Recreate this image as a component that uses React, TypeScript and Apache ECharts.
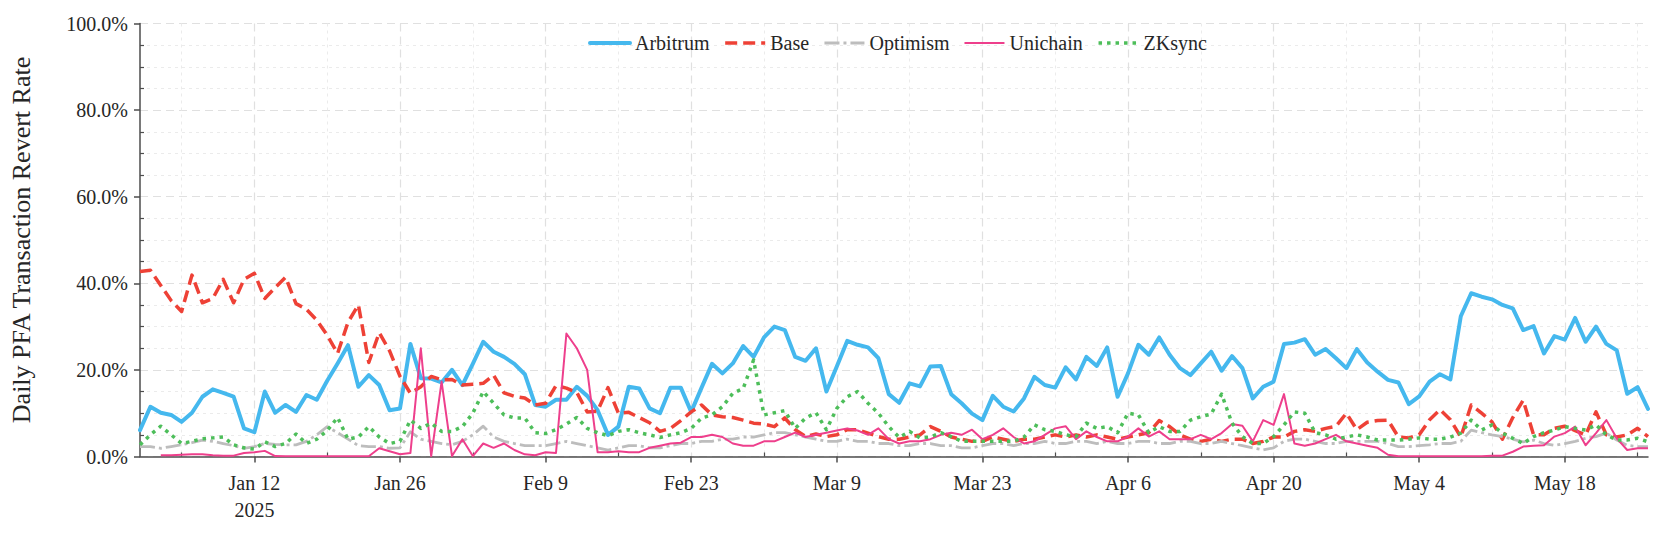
import React, { useEffect, useRef } from "react";
import * as echarts from "echarts";

// ---- categories (daily, Jan 1 2025 .. May 26 2025) ----
const START_UTC = Date.UTC(2025, 0, 1);
const DAY_COUNT = 146;
const MONTH_NAMES = ["Jan", "Feb", "Mar", "Apr", "May", "Jun", "Jul", "Aug", "Sep", "Oct", "Nov", "Dec"];
const dayLabels: string[] = Array.from({ length: DAY_COUNT }, (_, i) => {
  const d = new Date(START_UTC + i * 86400000);
  return `${MONTH_NAMES[d.getUTCMonth()]} ${d.getUTCDate()}`;
});
const YEAR_LABEL = "2025";
const YEAR_LABEL_INDEX = 11;

// ---- series values (%) ----
const arbitrum = [
  6.1, 11.5, 10.1, 9.6, 8.0, 10.1, 13.8, 15.5, 14.7, 13.8,
  6.5, 5.6, 15.0, 10.1, 11.9, 10.3, 14.2, 13.1, 17.5, 21.5,
  25.7, 16.1, 18.8, 16.5, 10.7, 11.1, 26.0, 18.1, 18.0, 17.1,
  20.0, 16.5, 21.4, 26.5, 24.2, 23.0, 21.4, 19.0, 11.9, 11.5,
  13.1, 13.1, 16.1, 14.0, 10.7, 5.0, 6.9, 16.1, 15.7, 11.1,
  10.0, 15.9, 15.9, 10.3, 15.9, 21.4, 19.2, 21.5, 25.5, 23.0,
  27.5, 30.0, 29.2, 23.0, 22.1, 25.0, 15.0, 20.8, 26.7, 25.8,
  25.2, 22.7, 14.4, 12.4, 16.9, 16.2, 20.8, 20.9, 14.4, 12.3,
  9.9, 8.4, 14.0, 11.5, 10.4, 13.4, 18.4, 16.5, 15.9, 20.6,
  17.8, 23.0, 20.9, 25.2, 13.8, 19.2, 25.8, 23.5, 27.5, 23.5,
  20.4, 18.8, 21.5, 24.2, 19.8, 23.2, 20.4, 13.4, 16.1, 17.3,
  26.0, 26.3, 27.1, 23.5, 24.8, 22.7, 20.4, 24.8, 21.7, 19.6,
  17.7, 17.1, 12.1, 13.9, 17.3, 19.0, 17.8, 32.4, 37.7, 36.9,
  36.3, 35.0, 34.2, 29.2, 30.1, 23.8, 27.8, 27.0, 32.0, 26.5,
  30.0, 26.0, 24.5, 14.5, 16.0, 11.0,
];
const base = [
  42.7, 43.0, 39.5, 36.0, 33.5, 41.9, 35.5, 36.5, 40.9, 35.5,
  40.9, 42.3, 36.5, 39.0, 41.4, 35.3, 34.0, 31.5, 28.0, 23.8,
  31.0, 35.0, 21.7, 28.6, 24.4, 18.5, 14.6, 16.1, 18.5, 17.7,
  17.8, 16.5, 16.7, 16.9, 18.8, 14.7, 13.9, 13.5, 11.9, 12.3,
  16.4, 15.8, 14.8, 10.3, 10.5, 15.9, 10.0, 10.2, 9.0, 7.8,
  5.8, 6.5, 8.3, 10.3, 11.9, 9.6, 9.2, 9.0, 8.4, 7.7,
  7.5, 6.9, 8.9, 6.2, 4.6, 5.2, 4.6, 5.0, 6.2, 6.2,
  5.4, 4.6, 4.0, 4.0, 4.5, 5.0, 6.9, 5.8, 4.5, 4.0,
  3.5, 3.5, 4.5, 4.0, 3.5, 4.0, 4.0, 4.5, 5.0, 4.5,
  5.0, 4.5, 5.0, 4.5, 4.0, 4.5, 5.0, 5.5, 8.3, 6.9,
  5.0, 4.0, 3.5, 4.0, 3.5, 4.0, 4.0, 3.0, 3.5, 4.5,
  4.5, 5.8, 6.2, 5.8, 6.5, 7.0, 10.0, 6.2, 7.9, 8.3,
  8.4, 4.5, 4.3, 5.0, 8.5, 10.8, 8.5, 4.5, 11.9, 10.0,
  8.0, 4.0, 9.0, 13.0, 5.0, 5.0, 6.5, 7.0, 6.0, 5.0,
  10.3, 5.0, 4.5, 5.0, 6.5, 4.6,
];
const optimism = [
  2.3, 2.3, 1.9, 2.3, 2.7, 3.2, 3.8, 3.5, 3.0, 2.5,
  1.9, 2.3, 3.0, 2.8, 2.7, 2.7, 3.5, 5.0, 6.9, 5.5,
  4.0, 2.5, 2.3, 2.3, 1.9, 2.0, 5.7, 4.0, 3.5, 3.0,
  2.7, 3.5, 5.0, 7.0, 4.5, 3.5, 3.0, 2.5, 2.5, 2.5,
  3.0, 3.5, 3.0, 2.5, 2.0, 1.5, 2.0, 2.5, 2.5, 2.0,
  2.0, 2.5, 3.0, 3.0, 3.5, 3.5, 4.0, 4.0, 4.5, 4.5,
  5.0, 5.5, 5.5, 5.0, 4.5, 4.0, 3.5, 3.5, 4.0, 3.5,
  3.5, 3.0, 3.0, 2.5, 2.5, 3.0, 3.0, 2.5, 2.5, 2.0,
  2.0, 2.5, 3.0, 3.0, 2.5, 3.0, 3.0, 3.5, 3.0, 3.0,
  3.5, 3.5, 3.0, 3.5, 3.0, 3.0, 3.5, 3.5, 3.0, 3.0,
  3.5, 3.5, 3.0, 3.0, 3.5, 3.0, 2.5, 2.0, 1.5, 2.0,
  3.5, 4.0, 4.0, 3.5, 3.0, 3.0, 3.5, 3.5, 3.5, 3.5,
  3.0, 2.3, 2.3, 2.5, 2.7, 3.0, 3.0, 3.5, 6.1, 5.5,
  5.0, 4.6, 4.0, 3.4, 3.8, 3.0, 2.6, 3.0, 3.5, 4.2,
  4.6, 5.4, 3.8, 2.6, 2.3, 2.3,
];
const unichain = [
  null, null, 0.3, 0.3, 0.4, 0.5, 0.5, 0.3, 0.2, 0.2,
  0.8, 1.0, 1.3, 0.1, 0.05, 0.05, 0.05, 0.05, 0.05, 0.05,
  0.05, 0.05, 0.05, 1.9, 1.2, 0.5, 0.8, 25.0, 0.1, 17.3,
  0.1, 4.0, 0.1, 3.0, 2.0, 3.0, 1.5, 0.5, 0.3, 1.0,
  0.8, 28.4, 25.0, 20.0, 1.0, 1.0, 1.2, 1.0, 1.0, 2.0,
  2.5, 3.0, 3.2, 4.5, 4.5, 5.0, 4.5, 3.0, 2.5, 2.5,
  3.5, 3.5, 4.5, 5.5, 4.5, 5.0, 5.5, 6.0, 6.5, 6.0,
  5.0, 6.5, 4.0, 3.0, 3.5, 3.5, 4.0, 5.0, 5.5, 5.0,
  6.2, 4.0, 5.0, 6.5, 4.5, 3.0, 3.5, 5.0, 6.5, 7.0,
  4.0, 5.8, 4.5, 3.5, 3.5, 4.6, 6.5, 4.6, 5.8, 4.0,
  4.0, 4.0, 5.0, 4.0, 5.4, 7.5, 7.1, 3.5, 8.4, 7.3,
  14.4, 3.0, 2.5, 3.0, 4.0, 5.0, 3.5, 3.0, 2.5, 2.0,
  0.4, 0.05, 0.05, 0.05, 0.05, 0.05, 0.05, 0.05, 0.05, 0.05,
  0.2, 0.2, 1.1, 2.3, 2.5, 2.6, 4.6, 5.4, 6.9, 2.6,
  5.4, 8.4, 4.2, 1.5, 1.9, 1.9,
];
const zksync = [
  2.7, 5.0, 7.0, 5.0, 3.0, 3.5, 4.1, 4.3, 4.5, 2.7,
  2.0, 1.7, 3.4, 2.3, 3.0, 5.2, 3.0, 4.0, 6.0, 9.0,
  4.0, 4.5, 6.9, 4.5, 3.0, 3.5, 8.4, 6.5, 7.7, 5.8,
  5.8, 6.9, 10.0, 15.0, 12.3, 9.6, 8.9, 8.9, 5.5, 5.3,
  6.2, 7.5, 9.0, 6.5, 5.5, 4.8, 5.8, 6.2, 5.5, 5.0,
  4.4, 5.0, 5.5, 6.5, 8.9, 9.6, 11.5, 14.6, 15.7, 22.3,
  9.6, 10.1, 10.6, 6.5, 8.9, 10.1, 6.2, 11.1, 13.8, 15.0,
  12.3, 10.0, 6.9, 4.4, 5.8, 4.3, 4.5, 5.5, 4.6, 3.5,
  3.5, 3.5, 3.5, 3.5, 3.5, 4.5, 7.3, 6.2, 5.8, 5.0,
  4.6, 7.7, 6.5, 6.9, 5.5, 10.0, 9.6, 5.5, 6.9, 5.8,
  5.8, 8.4, 9.2, 9.8, 14.4, 7.7, 4.6, 3.0, 3.0, 4.6,
  7.3, 10.3, 10.0, 5.5, 5.0, 4.0, 4.5, 5.0, 4.5, 3.8,
  3.8, 3.8, 4.0, 4.3, 4.0, 4.0, 4.5, 5.4, 8.4, 6.1,
  7.3, 5.4, 4.2, 3.0, 4.6, 5.5, 6.1, 6.9, 6.5, 6.1,
  7.3, 5.0, 3.8, 3.8, 4.2, 3.4,
];

// ---- axis ticks ----
const Y_MIN = 0;
const Y_MAX = 100;
const Y_STEP = 20;
const MAJOR_FIRST = 11; // Jan 12
const MAJOR_STEP = 14;
const MINOR_FIRST = 4; // Jan 5
const MINOR_STEP = 7;

const FONT = "'Liberation Serif', 'Times New Roman', serif";
const TEXT = "#262626";
const AXIS = "#4d4d4d";

const isMajor = (i: number) => i >= MAJOR_FIRST && (i - MAJOR_FIRST) % MAJOR_STEP === 0;
const isMinor = (i: number) => i >= MINOR_FIRST && (i - MINOR_FIRST) % MINOR_STEP === 0 && !isMajor(i);

export default function App() {
  const ref = useRef<HTMLDivElement>(null);
  useEffect(() => {
    if (!ref.current) return;
    const chart = echarts.init(ref.current, undefined, { renderer: "svg" });
    const lineSeries = (name: string, data: any[], color: string, width: number, type: any, cap = "butt") => ({
      name,
      type: "line",
      data,
      color,
      symbol: "none",
      showSymbol: false,
      connectNulls: false,
      lineStyle: { color, width, type, cap, join: "round" },
      emphasis: { disabled: true },
    });
    chart.setOption({
      animation: false,
      backgroundColor: "#ffffff",
      grid: { left: 125, right: 13, top: 23.5, bottom: 78.5, containLabel: false },
      legend: {
        left: 583,
        top: 28,
        itemWidth: 40,
        itemHeight: 14,
        itemGap: 14,
        itemStyle: { opacity: 0 },
        lineStyle: { width: "inherit" },
        textStyle: { fontFamily: FONT, fontSize: 20, color: TEXT },
        data: ["Arbitrum", "Base", "Optimism", "Unichain", "ZKsync"],
      },
      xAxis: [
        {
          type: "category",
          data: dayLabels,
          boundaryGap: false,
          axisLine: { show: true, lineStyle: { color: AXIS, width: 1.5 } },
          axisTick: { show: true, interval: (i: number) => isMajor(i), length: 6, lineStyle: { color: AXIS, width: 1.5 } },
          axisLabel: {
            interval: (i: number) => isMajor(i),
            formatter: (v: string, i: number) => (i === YEAR_LABEL_INDEX ? `${v}\n${YEAR_LABEL}` : v),
            fontFamily: FONT,
            fontSize: 20,
            color: TEXT,
            margin: 13,
            lineHeight: 27,
          },
          splitLine: { show: true, interval: (i: number) => isMajor(i), lineStyle: { color: "#e0e0e0", width: 1.2, type: [8, 5] } },
        },
        {
          type: "category",
          data: dayLabels,
          boundaryGap: false,
          position: "bottom",
          axisLine: { show: false },
          axisLabel: { show: false },
          axisTick: { show: true, inside: true, interval: (i: number) => isMinor(i), length: 4, lineStyle: { color: AXIS, width: 1.2 } },
          splitLine: { show: true, interval: (i: number) => isMinor(i), lineStyle: { color: "#ebebeb", width: 1, type: [3, 4] } },
        },
      ],
      yAxis: {
        type: "value",
        min: Y_MIN,
        max: Y_MAX,
        interval: Y_STEP,
        name: "Daily PFA Transaction Revert Rate",
        nameLocation: "middle",
        nameRotate: 90,
        nameGap: 106,
        nameTextStyle: { fontFamily: FONT, fontSize: 26, color: TEXT },
        axisLine: { show: true, lineStyle: { color: AXIS, width: 1.5 } },
        axisTick: { show: true, length: 6, lineStyle: { color: AXIS, width: 1.5 } },
        minorTick: { show: true, splitNumber: 4, length: -4, lineStyle: { color: AXIS, width: 1.2 } },
        axisLabel: {
          formatter: (v: number) => `${v.toFixed(1)}%`,
          fontFamily: FONT,
          fontSize: 20,
          color: TEXT,
          margin: 12,
        },
        splitLine: { show: true, lineStyle: { color: "#e0e0e0", width: 1.2, type: [8, 5] } },
        minorSplitLine: { show: true, lineStyle: { color: "#ebebeb", width: 1, type: [3, 4] } },
      },
      series: [
        lineSeries("Arbitrum", arbitrum, "#45B8EE", 4, "solid", "round"),
        lineSeries("Base", base, "#EE4136", 3.5, [12, 6]),
        lineSeries("Optimism", optimism, "#BDBDBD", 2.8, [15, 4, 3, 4]),
        lineSeries("Unichain", unichain, "#EE3F8C", 2),
        lineSeries("ZKsync", zksync, "#4DBE5A", 3.5, [3.5, 5]),
      ],
    });
    return () => chart.dispose();
  }, []);
  return <div ref={ref} style={{ position: "absolute", left: 0, top: 0, width: 1661, height: 535 }} />;
}
